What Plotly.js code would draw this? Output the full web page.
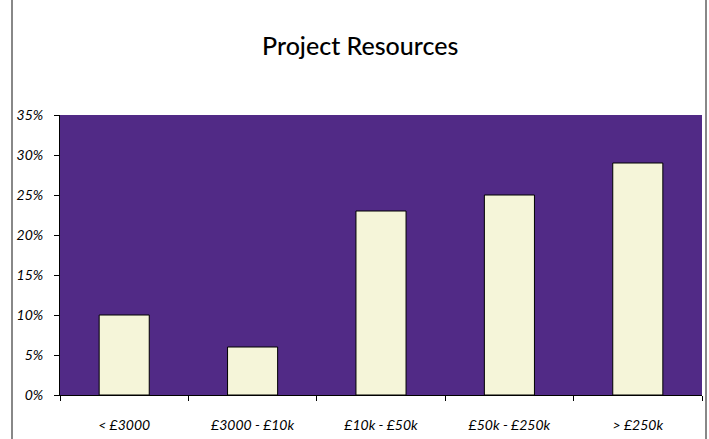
<!DOCTYPE html>
<html><head><meta charset="utf-8">
<script src="https://cdn.plot.ly/plotly-3.0.1.min.js"></script>
<style>body{margin:0;background:#fff}#chart{width:709px;height:439px}</style>
</head><body><div id="chart"></div>
<script>
const categories = ["< £3000", "£3000 - £10k", "£10k - £50k", "£50k - £250k", "> £250k"];
const shares = [0.10, 0.06, 0.23, 0.25, 0.29];
const yTickVals = [0, 0.05, 0.10, 0.15, 0.20, 0.25, 0.30, 0.35];
const yTickText = ["0%", "5%", "10%", "15%", "20%", "25%", "30%", "35%"];

const W = 709, H = 439, mL = 60, mR = 7, mT = 115, mB = 44;
const pw = W - mL - mR, ph = H - mT - mB;
const px = v => (v - mL) / pw;
const py = v => (H - mB - v) / ph;

const trace = {
  type: "bar", x: categories, y: shares,
  marker: {color: "#F5F5D9", line: {color: "#000000", width: 1}},
  hoverinfo: "skip"
};
const tickFont = {family: "Lato, 'Open Sans', sans-serif", size: 14, color: "#000", style: "italic"};
const layout = {
  width: W, height: H,
  margin: {l: mL, r: mR, t: mT, b: mB, pad: 0},
  paper_bgcolor: "#ffffff", plot_bgcolor: "#512A86",
  bargap: 0.61,
  showlegend: false,
  title: {text: "Project Resources", x: 0.508, xref: "container", y: 1 - 46/H, yref: "container", yanchor: "middle",
          font: {family: "Lato, 'Open Sans', sans-serif", size: 25, color: "#000", weight: 500}},
  xaxis: {type: "category", tickson: "boundaries", ticks: "outside", ticklen: 5, tickcolor: "#000",
          showline: true, linecolor: "#000", linewidth: 1, showgrid: false, zeroline: false,
          tickfont: tickFont, ticklabelstandoff: 17},
  yaxis: {range: [0, 0.35], tickvals: yTickVals, ticktext: yTickText, ticks: "outside", ticklen: 5, tickcolor: "#000",
          showline: true, linecolor: "#000", linewidth: 1, showgrid: false, zeroline: false,
          tickfont: tickFont, ticklabelstandoff: 8},
  shapes: [
    {type: "line", xref: "paper", yref: "paper", x0: px(12), x1: px(12), y0: py(0), y1: py(439), line: {color: "#888", width: 2}},
    {type: "line", xref: "paper", yref: "paper", x0: px(706), x1: px(706), y0: py(0), y1: py(439), line: {color: "#888", width: 2}}
  ]
};
Plotly.newPlot("chart", [trace], layout, {displayModeBar: false, staticPlot: true});
</script></body></html>
